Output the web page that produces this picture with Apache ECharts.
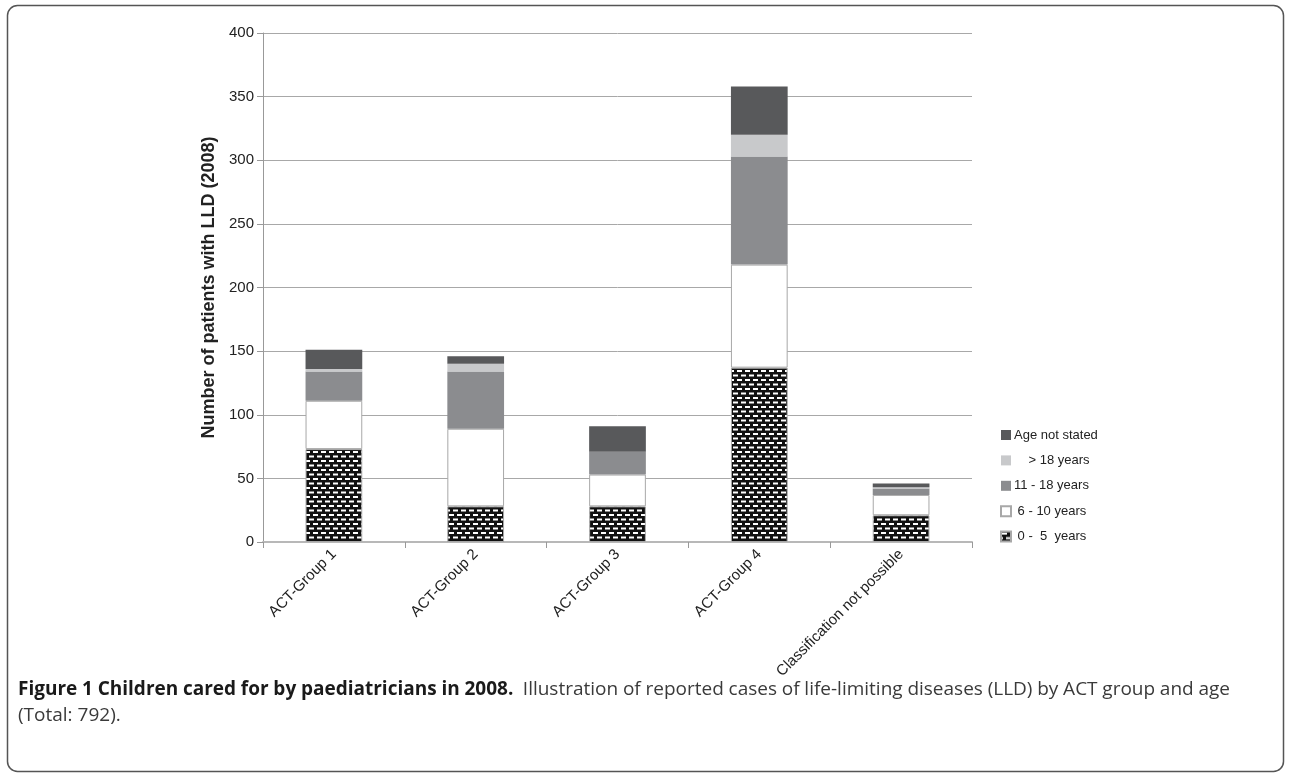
<!DOCTYPE html>
<html>
<head>
<meta charset="utf-8">
<script src="https://cdn.jsdelivr.net/npm/echarts@6/dist/echarts.min.js"></script>
<style>
  html, body { margin: 0; padding: 0; background: #fff; }
  #chart { width: 1290px; height: 775px; }
</style>
</head>
<body>
<div id="chart"></div>
<script>
// Reported cases of life-limiting diseases by ACT group, stacked by age band
const categories = ['ACT-Group 1', 'ACT-Group 2', 'ACT-Group 3', 'ACT-Group 4', 'Classification not possible'];
const age0to5    = [73, 28, 28, 137, 21];
const age6to10   = [38, 61, 25, 81, 16];
const age11to18  = [23, 45, 18, 85, 5];
const over18     = [2, 6, 0, 17, 1];
const notStated  = [15, 6, 20, 38, 3];

const seriesNames = [' 0 -  5  years', ' 6 - 10 years', '11 - 18 years', '    > 18 years', 'Age not stated'];
const yTicks = [0, 50, 100, 150, 200, 250, 300, 350, 400];

const captionBold = 'Figure 1 Children cared for by paediatricians in 2008.';
const captionText = 'Illustration of reported cases of life-limiting diseases (LLD) by ACT group and age';
const captionLine2 = '(Total: 792).';

// Black fill with staggered white dashes for the youngest age band
function brickPattern() {
  const c = document.createElement('canvas');
  c.width = 8; c.height = 9;
  const g = c.getContext('2d');
  g.fillStyle = '#111';
  g.fillRect(0, 0, 8, 9);
  g.fillStyle = '#fff';
  g.fillRect(1, 1, 5, 2);
  g.fillRect(5, 5.5, 5, 2);
  g.fillRect(-3, 5.5, 5, 2);
  return c;
}

const font = "'Liberation Sans', Arial, sans-serif";
const capFont = "'Open Sans', sans-serif";
const capSize = 19;

// Justified first caption line: words spread between left and right margins
function justifiedCaption(left, right, top) {
  const ctx = document.createElement('canvas').getContext('2d');
  const tokens = [];
  captionBold.split(' ').forEach(w => tokens.push({ t: w, bold: true }));
  captionText.split(' ').forEach(w => tokens.push({ t: w, bold: false }));
  let sum = 0;
  tokens.forEach(tok => {
    ctx.font = (tok.bold ? 'bold ' : '') + capSize + 'px ' + capFont;
    tok.w = ctx.measureText(tok.t).width;
    sum += tok.w;
  });
  // gap between bold title and body counts as a double space
  const weights = tokens.slice(1).map((tok, i) => (tokens[i].bold && !tok.bold) ? 2 : 1);
  const totalWeight = weights.reduce((a, b) => a + b, 0);
  const gap = Math.max(3, (right - left - sum) / totalWeight);
  const out = [];
  let x = left;
  tokens.forEach((tok, i) => {
    if (i > 0) x += gap * weights[i - 1];
    out.push({
      type: 'text', x: x, y: top, silent: true,
      style: {
        text: tok.t, fontFamily: capFont, fontSize: capSize,
        fontWeight: tok.bold ? 'bold' : 'normal',
        fill: tok.bold ? '#1a1a1a' : '#3a3a3a', textVerticalAlign: 'middle'
      }
    });
    x += tok.w;
  });
  return out;
}

const chart = echarts.init(document.getElementById('chart'), null, { renderer: 'canvas' });

const styles = [
  { color: { image: brickPattern(), repeat: 'repeat' }, borderColor: '#a8a8a8', borderWidth: 1 },
  { color: '#ffffff', borderColor: '#a8a8a8', borderWidth: 1 },
  { color: '#8b8c8f' },
  { color: '#c8c9cb' },
  { color: '#58595b' }
];
const values = [age0to5, age6to10, age11to18, over18, notStated];

const series = seriesNames.map((name, i) => ({
  name: name,
  type: 'bar',
  stack: 'total',
  barWidth: '40%',
  data: values[i],
  itemStyle: styles[i],
  emphasis: { disabled: true }
}));

chart.setOption({
  animation: false,
  backgroundColor: '#fff',
  textStyle: { fontFamily: font },
  grid: { left: 263, right: 318, top: 33, bottom: 233, containLabel: false },
  legend: {
    orient: 'vertical',
    left: 1000,
    top: 427,
    padding: 0,
    icon: 'rect',
    itemWidth: 10,
    itemHeight: 10,
    itemGap: 9.4,
    selectedMode: false,
    data: seriesNames.slice().reverse(),
    textStyle: { fontFamily: font, fontSize: 13, color: '#222', lineHeight: 16, padding: [0, 0, 0, -2] }
  },
  xAxis: {
    type: 'category',
    data: categories,
    axisLine: { lineStyle: { color: '#b8b8b8', width: 2 } },
    axisTick: { show: true, length: 6, lineStyle: { color: '#999' } },
    axisLabel: { rotate: 45, fontSize: 15, color: '#222', margin: 10, fontFamily: font, interval: 0 }
  },
  yAxis: {
    type: 'value',
    min: yTicks[0],
    max: yTicks[yTicks.length - 1],
    interval: 50,
    name: 'Number of patients with LLD (2008)',
    nameLocation: 'middle',
    nameGap: 42,
    nameTextStyle: { fontSize: 18, fontWeight: 'bold', color: '#222', fontFamily: font },
    axisLine: { show: true, lineStyle: { color: '#999' } },
    axisTick: { show: true, length: 6, lineStyle: { color: '#999' } },
    axisLabel: { fontSize: 15, color: '#222', margin: 9, fontFamily: font },
    splitLine: { lineStyle: { color: '#a8a8a8', width: 1 } }
  },
  series: series,
  graphic: [
    {
      type: 'rect',
      shape: { x: 7.5, y: 5.5, width: 1276, height: 766, r: 10 },
      style: { fill: 'none', stroke: '#555', lineWidth: 1.5 },
      silent: true
    },
    ...justifiedCaption(18, 1230, 690),
    {
      type: 'text', x: 18, y: 716, silent: true,
      style: {
        text: captionLine2, fontFamily: capFont, fontSize: capSize,
        fill: '#3a3a3a', textVerticalAlign: 'middle'
      }
    }
  ]
});
</script>
</body>
</html>
